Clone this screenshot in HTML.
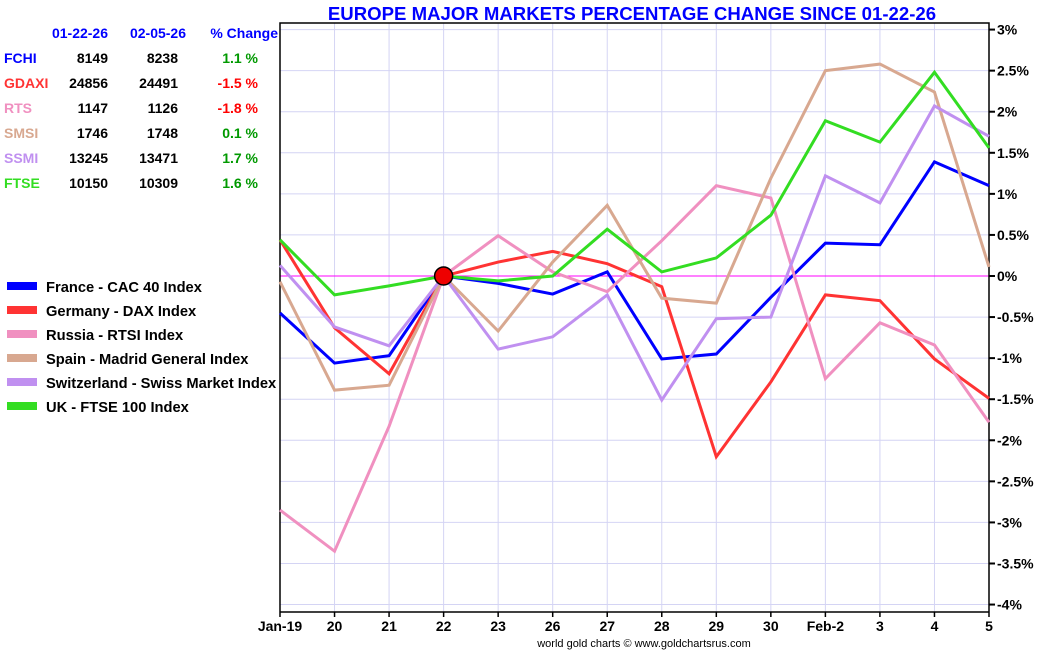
<!DOCTYPE html>
<html><head><meta charset="utf-8"><style>
body{margin:0;background:#fff;font-family:"Liberation Sans",sans-serif}
svg{display:block}
</style></head><body>
<svg width="1050" height="650" font-family="Liberation Sans, sans-serif">
<text x="632" y="20" text-anchor="middle" font-size="18.6" font-weight="bold" fill="#0000ff">EUROPE MAJOR MARKETS PERCENTAGE CHANGE SINCE 01-22-26</text>
<g id="grid"></g>
<g id="axes"></g>
<g id="lines"></g>
<g id="table" font-size="14" font-weight="bold"></g>
<g id="legend" font-size="14.7" font-weight="bold"></g>
<text x="644" y="647" text-anchor="middle" font-size="11" fill="#000">world gold charts © www.goldchartsrus.com</text>
</svg>
<script>
const categories=["Jan-19","20","21","22","23","26","27","28","29","30","Feb-2","3","4","5"];
const yTicks=[3,2.5,2,1.5,1,0.5,0,-0.5,-1,-1.5,-2,-2.5,-3,-3.5,-4];
const seriesNames=["France - CAC 40 Index","Germany - DAX Index","Russia - RTSI Index","Spain - Madrid General Index","Switzerland - Swiss Market Index","UK - FTSE 100 Index"];
const seriesColors=["#0000ff","#ff3333","#f090c0","#d8a890","#c090f0","#33dd22"];
const france=[-0.45,-1.06,-0.97,0,-0.09,-0.22,0.05,-1.01,-0.95,-0.26,0.40,0.38,1.39,1.10];
const germany=[0.44,-0.63,-1.19,0,0.17,0.30,0.15,-0.13,-2.2,-1.29,-0.23,-0.30,-1.01,-1.49];
const russia=[-2.85,-3.35,-1.83,0,0.49,0.05,-0.19,0.43,1.10,0.95,-1.25,-0.57,-0.84,-1.78];
const spain=[-0.07,-1.39,-1.33,0,-0.67,0.17,0.86,-0.27,-0.33,1.19,2.50,2.58,2.24,0.11];
const swiss=[0.13,-0.62,-0.85,0,-0.89,-0.74,-0.23,-1.51,-0.52,-0.50,1.22,0.89,2.07,1.70];
const uk=[0.44,-0.23,-0.12,0,-0.06,0.0,0.57,0.05,0.22,0.74,1.89,1.63,2.48,1.56];
const tableSymbols=["FCHI","GDAXI","RTS","SMSI","SSMI","FTSE"];
const tableStart=["8149","24856","1147","1746","13245","10150"];
const tableEnd=["8238","24491","1126","1748","13471","10309"];
const tableChange=[1.1,-1.5,-1.8,0.1,1.7,1.6];
const allSeries=[france,germany,russia,spain,swiss,uk];
const NS="http://www.w3.org/2000/svg";
const X0=280,X1=989,YTOP=23,YBOT=612;
const x=i=>X0+i*(X1-X0)/(categories.length-1);
const y=v=>276-v*82.14;
function mk(p,tag,attrs,txt){const e=document.createElementNS(NS,tag);for(const k in attrs)e.setAttribute(k,attrs[k]);if(txt!==undefined)e.textContent=txt;p.appendChild(e);return e;}
const grid=document.getElementById('grid'),axes=document.getElementById('axes'),lines=document.getElementById('lines');
categories.forEach((c,i)=>{
 const l=mk(grid,'line',{x1:x(i),x2:x(i),y1:YTOP,y2:YBOT,stroke:'#d4d4f4','stroke-width':1});
 
 
 const t=mk(axes,'text',{x:x(i),y:631,'text-anchor':'middle','font-size':14,'font-weight':'bold'},c);
 
 
});
yTicks.forEach(v=>{
 if(v!==0){const l=mk(grid,'line',{x1:X0,x2:X1,y1:y(v),y2:y(v),stroke:'#d4d4f4','stroke-width':1});
 
 }
 mk(axes,'line',{x1:X1,x2:X1+6,y1:y(v),y2:y(v),stroke:'#000','stroke-width':2});
 const t=mk(axes,'text',{x:X1+8,y:y(v)+5,'font-size':14,'font-weight':'bold'},v+'%');
 
 
});
const zl=mk(grid,'line',{x1:X0,x2:X1,y1:y(0),y2:y(0),stroke:'#ff00ff','stroke-width':1});


mk(axes,'path',{d:`M${X0} ${YBOT}V${YTOP}H${X1}V${YBOT}`,fill:'none',stroke:'#000','stroke-width':1.5});
mk(axes,'line',{x1:X0,x2:X1,y1:YBOT,y2:YBOT,stroke:'#000','stroke-width':1.5});
categories.forEach((c,i)=>mk(axes,'line',{x1:x(i),x2:x(i),y1:YBOT,y2:YBOT+5,stroke:'#000','stroke-width':1.5}));
allSeries.forEach((s,k)=>{
 const p=mk(lines,'polyline',{points:s.map((v,i)=>x(i)+','+y(v)).join(' '),fill:'none',stroke:seriesColors[k],'stroke-width':3,'stroke-linejoin':'miter'});
 
 
});
const mark=mk(lines,'circle',{cx:x(3),cy:y(0),r:9,fill:'#ee0000',stroke:'#000','stroke-width':1.5});


const table=document.getElementById('table');
[["01-22-26",108],["02-05-26",186],["% Change",278]].forEach(h=>{
 const t=mk(table,'text',{x:h[1],y:38,'text-anchor':'end',fill:'#0000ff'},h[0]);
 
 
});
tableSymbols.forEach((s,i)=>{
 const yy=63+i*25;
 const a=mk(table,'text',{x:4,y:yy,fill:seriesColors[i]},s);
 
 
 mk(table,'text',{x:108,y:yy,'text-anchor':'end',fill:'#000'},tableStart[i]);
 mk(table,'text',{x:178,y:yy,'text-anchor':'end',fill:'#000'},tableEnd[i]);
 const c=mk(table,'text',{x:258,y:yy,'text-anchor':'end',fill:tableChange[i]<0?'#ff0000':'#009900'},tableChange[i].toFixed(1)+' %');
 
 
});
const legend=document.getElementById('legend');
seriesNames.forEach((n,i)=>{
 const yy=288+i*24;
 const g=mk(legend,'g',{});
 
 
 mk(g,'rect',{x:7,y:yy-6,width:30,height:8,fill:seriesColors[i]});
 mk(g,'text',{x:46,y:yy+4,fill:'#000'},n);
});
</script>
</body></html>
